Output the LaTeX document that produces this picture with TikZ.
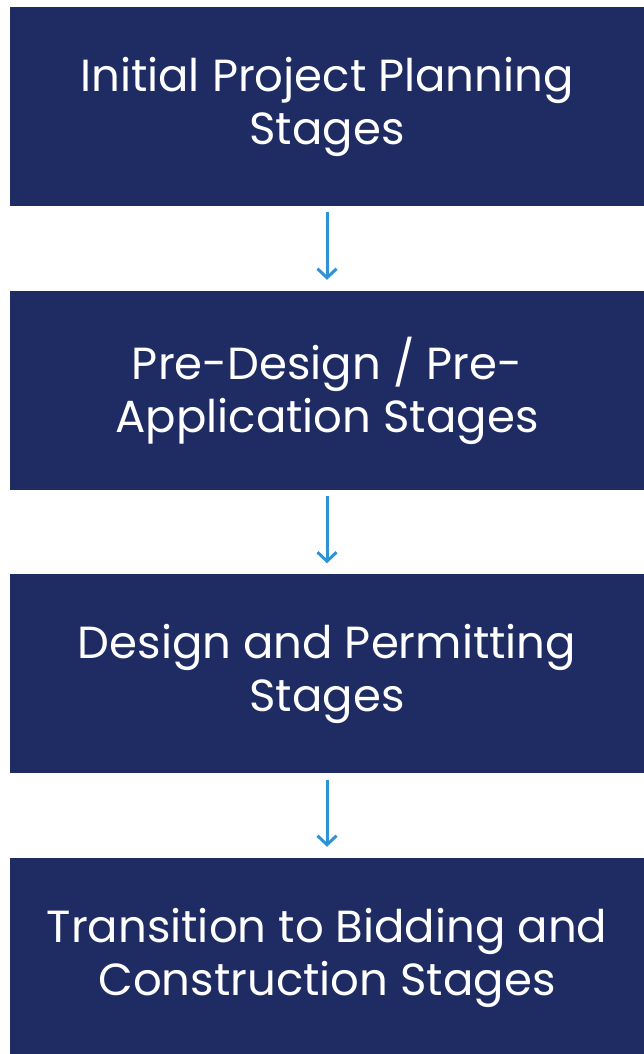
\documentclass[tikz,border=0pt]{standalone}
\usepackage{fontspec}
\setmainfont{Poppins}
\usetikzlibrary{arrows.meta}
\definecolor{stageblue}{HTML}{1F2C63}
\definecolor{arrowblue}{HTML}{2E93D6}
\begin{document}
\begin{tikzpicture}
[x=1pt, y=1pt,
stagenode/.style={rectangle, fill=stageblue, text=white, minimum width=634pt, minimum height=199pt, align=center, font=\fontsize{45}{53}\selectfont},
connect/.style={-{Straight Barb[length=9pt, width=19pt, line width=3pt]}, draw=arrowblue, line width=3pt, shorten <=6pt, shorten >=11pt}]
\useasboundingbox (0, 0) rectangle (644, 1054);
\node[stagenode]	(stage1) at (327, 947.5) {Initial Project Planning\\Stages};
\node[stagenode]	(stage2) at (327, 663.5) {Pre-Design / Pre-\\Application Stages};
\node[stagenode]	(stage3) at (327, 380) {Design and Permitting\\Stages};
\node[stagenode]	(stage4) at (327, 96.5) {Transition to Bidding and\\Construction Stages};
\draw[connect] (stage1.south) -- (stage2.north);
\draw[connect] (stage2.south) -- (stage3.north);
\draw[connect] (stage3.south) -- (stage4.north);

\end{tikzpicture}
\end{document}
